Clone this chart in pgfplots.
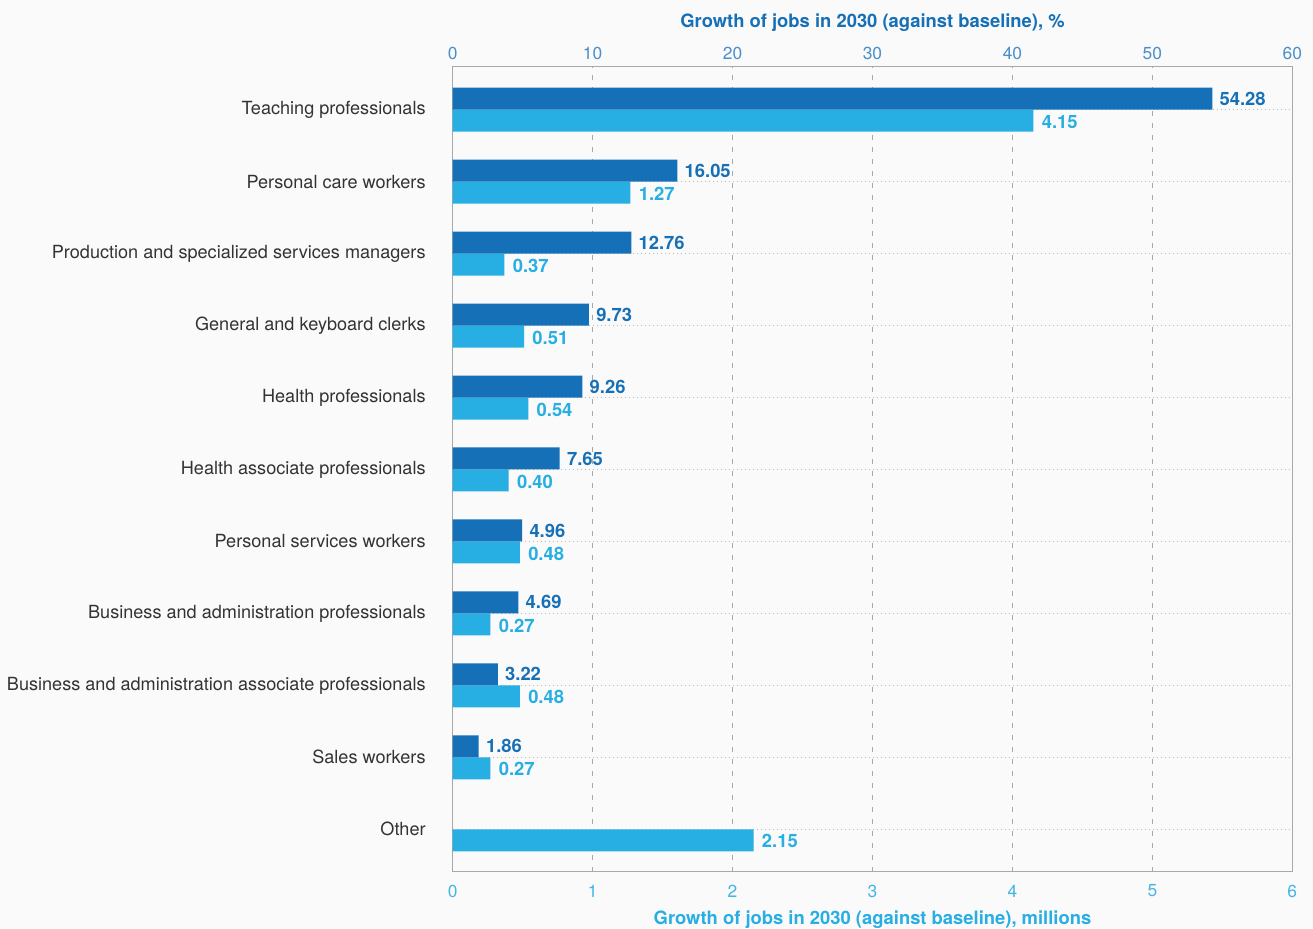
\documentclass[border=0pt]{standalone}
\usepackage{pgfplots}
\usepackage{pgfplotstable}
\pgfplotsset{compat=1.18}
\usepackage{fontspec}
\setmainfont{TeX Gyre Heros}
\definecolor{darkb}{HTML}{1670B7}
\definecolor{lightb}{HTML}{27AEE3}
\definecolor{topt}{HTML}{4A8FCB}
\definecolor{bott}{HTML}{45B5E6}
\definecolor{bg}{HTML}{FAFAFA}
\definecolor{lab}{HTML}{333333}
\definecolor{frame}{HTML}{A8A8A8}

\pgfplotstableread{
y pct
10 54.28
9 16.05
8 12.76
7 9.73
6 9.26
5 7.65
4 4.96
3 4.69
2 3.22
1 1.86
}\pcttab
\pgfplotstableread{
y mil
10 4.15
9 1.27
8 0.37
7 0.51
6 0.54
5 0.40
4 0.48
3 0.27
2 0.48
1 0.27
0 2.15
}\miltab

\pgfplotsset{
  base/.style={
    scale only axis, width=419.8pt, height=402.5pt,
    ymin=-0.589, ymax=10.597,
    xmin=0,
    xbar, bar width=11pt,
    clip=false,
    axis line style={frame, line width=0.75pt},
    major tick length=0pt,
    /pgf/number format/assume math mode=true,
    nodes near coords={\pgfmathprintnumber[fixed,fixed zerofill,precision=2]{\pgfplotspointmeta}},
    nodes near coords align=horizontal,
  }
}

\begin{document}
\begin{tikzpicture}
\useasboundingbox (-226.35pt,-28.15pt) rectangle (430.15pt,435.85pt);
\fill[bg] (-226.35pt,-28.15pt) rectangle (430.15pt,435.85pt);
% bottom axis: millions
\begin{axis}[base,
  xmax=6, xtick={0,...,6},
  ytick={0,...,10},
  yticklabels={Other, Sales workers, Business and administration associate professionals, Business and administration professionals, Personal services workers, Health associate professionals, Health professionals, General and keyboard clerks, Production and specialized services managers, Personal care workers, Teaching professionals},
  yticklabel style={font=\fontsize{9.05}{10}\selectfont, color=lab, xshift=-10pt},
  xticklabel style={font=\fontsize{8.7}{10}\selectfont, color=bott, yshift=-3pt},
  xlabel={Growth of jobs in 2030 (against baseline), millions},
  xlabel style={font=\bfseries\fontsize{9.2}{10}\selectfont, color=lightb, yshift=0pt},
  xmajorgrids, ymajorgrids,
  x grid style={frame, dash pattern=on 2.5pt off 3.5pt, line width=0.6pt},
  y grid style={frame!80, dash pattern=on 0.5pt off 1.5pt, line width=0.5pt},
  bar shift=-5.5pt,
  nodes near coords style={font=\bfseries\fontsize{9.2}{10}\selectfont, color=lightb, inner sep=0pt, xshift=4pt, yshift=-0.5pt},
]
\addplot[fill=lightb, draw=none] table[x=mil, y=y] {\miltab};
\end{axis}
% top axis: percent
\begin{axis}[base,
  xmax=60, xtick={0,10,...,60},
  axis x line*=top, hide y axis,
  xticklabel pos=upper,
  xticklabel style={font=\fontsize{8.7}{10}\selectfont, color=topt},
  xlabel={Growth of jobs in 2030 (against baseline), \%},
  xlabel style={font=\bfseries\fontsize{9.2}{10}\selectfont, color=darkb, yshift=1pt},
  bar shift=5.5pt,
  nodes near coords style={font=\bfseries\fontsize{9.2}{10}\selectfont, color=darkb, inner sep=0pt, xshift=3.5pt},
]
\addplot[fill=darkb, draw=none] table[x=pct, y=y] {\pcttab};
\end{axis}
\end{tikzpicture}
\end{document}
